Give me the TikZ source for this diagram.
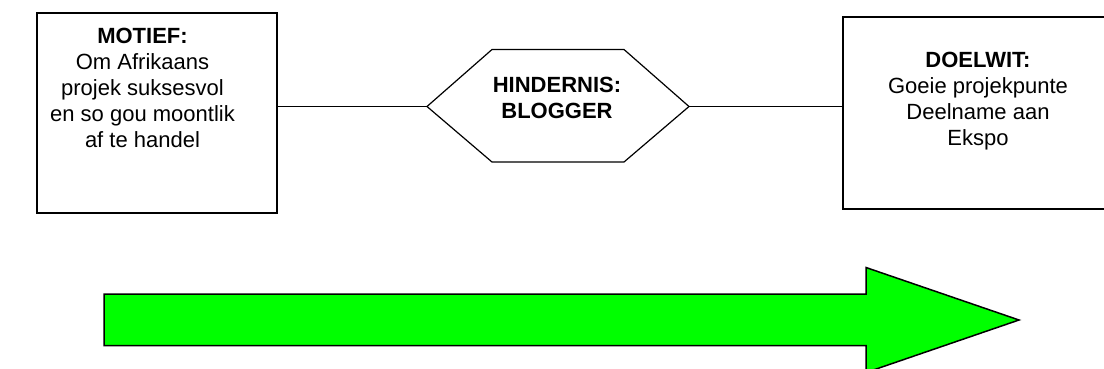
\documentclass[tikz,border=0pt]{standalone}
\usepackage{fontspec}
\setmainfont{Liberation Sans}
\usetikzlibrary{positioning}
\definecolor{pylgroen}{RGB}{0,255,0}
\begin{document}
\begin{tikzpicture}[x=1pt, y=-1pt,
    blok/.style={rectangle, draw, line width=1.5pt, inner sep=0pt},
    teks/.style={align=center, inner sep=0pt, font=\fontsize{22}{26}\selectfont},
    lyn/.style={line width=1.2pt}]
    \useasboundingbox (0,0) rectangle (1104,368);
    \clip (0,0) rectangle (1104,368);

    % Motief links
    \node[blok, minimum width=240pt, minimum height=200pt] (motief) at (157,113) {};
    \node[teks, anchor=north] (motieftxt) at (142.5,28) {\textbf{MOTIEF:}\\Om Afrikaans\\projek suksesvol\\en so gou moontlik\\af te handel};

    % Hindernis in die middel (seshoek)
    \coordinate (hl) at (427,106.5);
    \coordinate (hr) at (689,106.5);
    \draw[lyn] (hl) -- (492,49.5) -- (624,49.5) -- (hr) -- (624,162) -- (492,162) -- cycle;
    \node[teks, anchor=north] (hindernis) at (557,77) {\textbf{HINDERNIS:}\\\textbf{BLOGGER}};

    % Doelwit regs (loop by die rand uit)
    \node[blok, minimum width=268pt, minimum height=192pt] (doelwit) at (977,113) {};
    \node[teks, anchor=north] (doelwittxt) at (978,52) {\textbf{DOELWIT:}\\Goeie projekpunte\\Deelname aan\\Ekspo};

    % verbindings
    \draw[lyn] (motief.east |- hl) -- (hl);
    \draw[lyn] (hr) -- (hr -| doelwit.west);

    % groot groen pyl onder
    \draw[fill=pylgroen, line width=1.5pt] (104,294) -- (866,294) -- (866,267.5) -- (1019,320)
        -- (866,372.5) -- (866,345.5) -- (104,345.5) -- cycle;
\end{tikzpicture}
\end{document}
